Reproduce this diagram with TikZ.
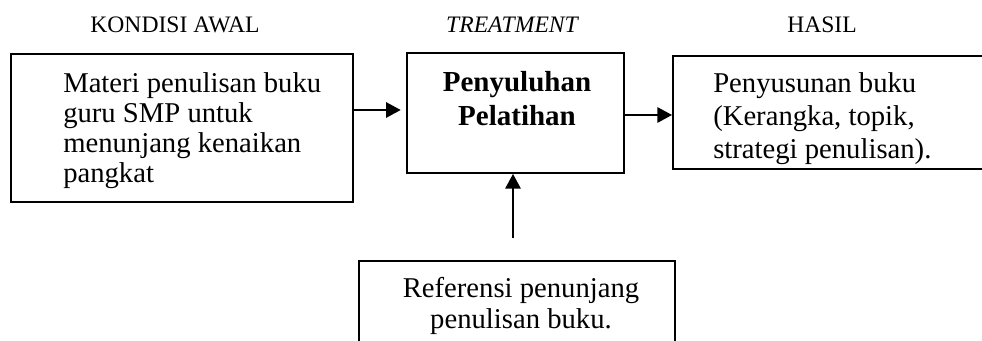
\documentclass[tikz,border=0pt]{standalone}
\usepackage{fontspec}
\setmainfont{Liberation Serif}
\usetikzlibrary{arrows.meta,calc}
\begin{document}
\begin{tikzpicture}[x=0.75pt,y=-0.75pt,
  boxstyle/.style={draw,line width=1.4pt,rectangle,inner sep=0pt},
  headstyle/.style={font=\fontsize{17.7}{20}\selectfont,inner sep=0pt,anchor=base},
  bodystyle/.style={inner sep=0pt},
  arrowstyle/.style={line width=1.4pt,-{Triangle[length=11pt,width=11.5pt]}}]
\useasboundingbox (0,0) rectangle (982,341);
\clip (0,0) rectangle (982,341);
% headings
\node[headstyle] (h1) at (175,33) {KONDISI AWAL};
\node[headstyle] (h2) at (512,33) {\itshape TREATMENT};
\node[headstyle] (h3) at (822,33) {HASIL};
% boxes
\node[boxstyle,minimum width=256.5pt,minimum height=111pt] (lbox) at (182,128) {};
\node[boxstyle,minimum width=162.75pt,minimum height=90pt] (mbox) at (515.5,113) {};
\node[boxstyle,minimum width=245.25pt,minimum height=84.75pt] (rbox) at (836.5,112.5) {};
\node[boxstyle,minimum width=237pt,minimum height=89.25pt] (bbox) at (517,320.5) {};
% texts
\node[bodystyle,anchor=base west] (ltext) at (63,93)
  {\parbox[t]{230pt}{\fontsize{21.5}{22.3}\selectfont\raggedright
   Materi penulisan buku\\guru SMP untuk\\menunjang kenaikan\\pangkat}};
\node[bodystyle,anchor=base] (mtext) at (517,92)
  {\parbox[t]{150pt}{\fontsize{21.75}{25.5}\selectfont\centering\bfseries
   Penyuluhan\\Pelatihan}};
\node[bodystyle,anchor=base west] (rtext) at (713,93)
  {\parbox[t]{220pt}{\fontsize{21.5}{24.75}\selectfont\raggedright
   Penyusunan buku\\(Kerangka, topik,\\strategi penulisan).}};
\node[bodystyle,anchor=base] (btext) at (521,298)
  {\parbox[t]{220pt}{\fontsize{21.5}{23.25}\selectfont\centering
   Referensi penunjang\\penulisan buku.}};
% connectors
\coordinate (a1) at (0,110);
\coordinate (a2) at (0,115);
\coordinate (a3) at (513,238);
\draw[arrowstyle,shorten >=4pt] (lbox.east |- a1) -- (mbox.west |- a1);
\draw[arrowstyle] (mbox.east |- a2) -- (rbox.west |- a2);
\draw[arrowstyle] (a3) -- (a3 |- mbox.south);
\end{tikzpicture}
\end{document}
